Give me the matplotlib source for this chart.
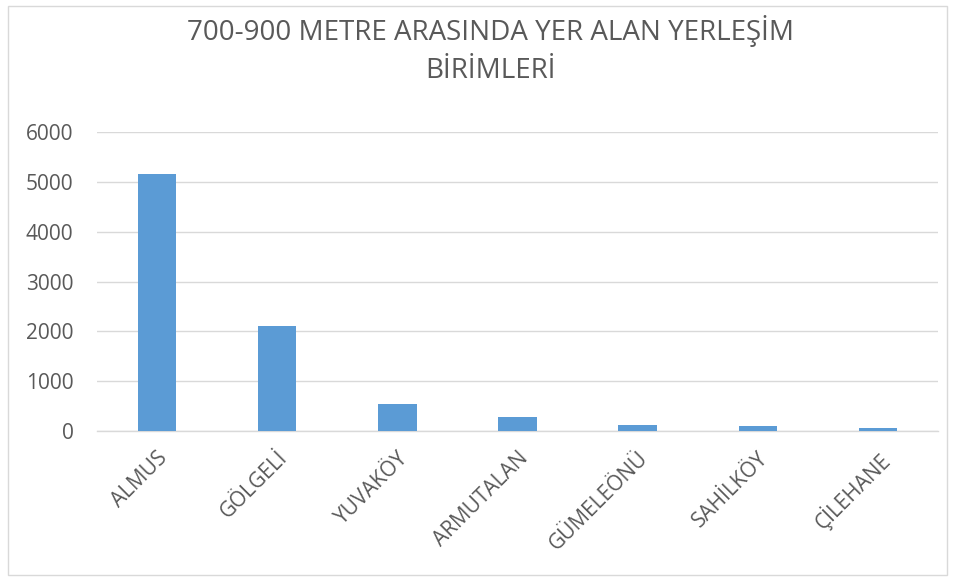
import matplotlib.pyplot as plt
from matplotlib.patches import Rectangle

# --- data ---
categories = ['ALMUS', 'GÖLGELİ', 'YUVAKÖY', 'ARMUTALAN', 'GÜMELEÖNÜ', 'SAHİLKÖY', 'ÇİLEHANE']
values = [5155, 2115, 540, 280, 130, 100, 60]
y_ticks = [0, 1000, 2000, 3000, 4000, 5000, 6000]

title = '700-900 METRE ARASINDA YER ALAN YERLEŞİM\nBİRİMLERİ'
text_color = '#595959'
bar_color = '#5B9BD5'
grid_color = '#D9D9D9'

plt.rcParams['font.family'] = ['Open Sans', 'DejaVu Sans']

fig = plt.figure(figsize=(9.56, 5.81), dpi=100)
# chart border
fig.patches.append(Rectangle((8 / 956, 6 / 581), 939 / 956, 569 / 581,
                             transform=fig.transFigure, fill=False,
                             edgecolor='#D9D9D9', linewidth=1))

ax = fig.add_axes([97 / 956, 1 - 431 / 581, 841 / 956, 299 / 581])
x = range(len(categories))
ax.bar(x, values, width=0.32, color=bar_color, zorder=3)

ax.set_xlim(-0.5, len(categories) - 0.5)
ax.set_ylim(0, 6000)
ax.set_yticks(y_ticks)
ax.set_yticklabels([str(v) for v in y_ticks], fontsize=15, color=text_color)
ax.yaxis.grid(True, color=grid_color, linewidth=1)
ax.set_axisbelow(True)

ax.set_xticks(list(x))
ax.set_xticklabels(categories, rotation=45, ha='right', rotation_mode='anchor',
                   fontsize=15, color=text_color)
ax.tick_params(axis='both', length=0)
ax.tick_params(axis='x', pad=12)
ax.tick_params(axis='y', pad=17)

for side in ['top', 'right', 'left']:
    ax.spines[side].set_visible(False)
ax.spines['bottom'].set_color(grid_color)
ax.spines['bottom'].set_linewidth(1)

fig.text(491 / 956, 1 - 50 / 581, title, ha='center', va='center',
         fontsize=20, color=text_color, linespacing=1.45)

fig.savefig('out.png', dpi=100)
